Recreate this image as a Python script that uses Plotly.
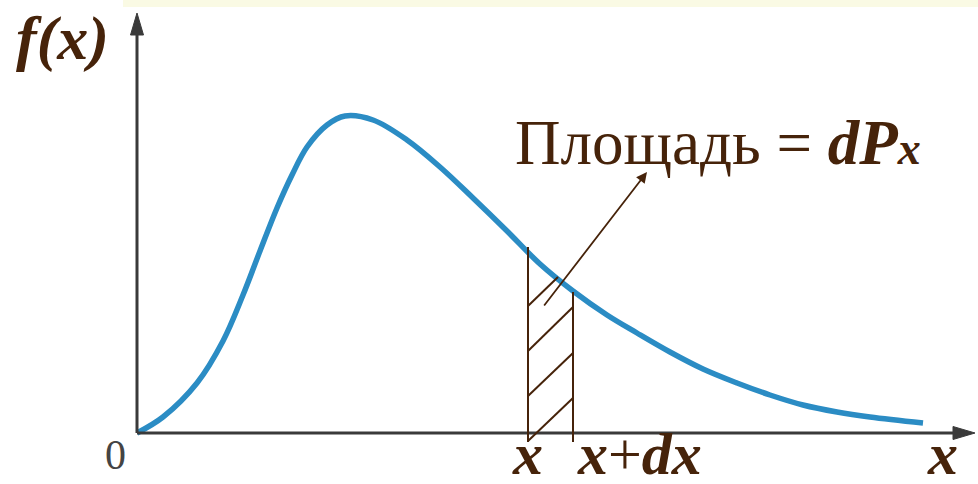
import plotly.graph_objects as go

curve_x = [0.00, 0.26, 0.60, 0.86, 1.06, 1.23, 1.40, 1.55, 1.70, 1.90, 2.08, 2.36,
           2.70, 3.03, 3.36, 3.70, 4.03, 4.36, 4.70, 5.00, 5.33, 5.66, 6.00, 6.33,
           6.66, 7.00, 7.33, 7.86]
curve_y = [0.00, 0.16, 0.50, 0.92, 1.38, 1.82, 2.25, 2.58, 2.86, 3.08, 3.17, 3.13,
           2.93, 2.66, 2.35, 2.02, 1.69, 1.42, 1.18, 1.00, 0.81, 0.64, 0.50, 0.38,
           0.28, 0.21, 0.16, 0.10]

# Strip [x, x+dx] under the curve
strip_x = [3.91, 4.36]
strip_top = [1.86, 1.41]
strip_bottom = -0.09

# Hatch strokes inside the strip: (x0, y0, x1, y1)
hatch = [
    (3.91, 1.27, 4.21, 1.56),
    (3.91, 0.82, 4.36, 1.26),
    (3.91, 0.37, 4.36, 0.80),
    (3.91, -0.08, 4.36, 0.35),
]
# Pointer from the strip to the caption
pointer = (4.06, 1.26, 5.10, 2.61)

x_axis_end = 8.38
y_axis_end = 4.20

ink = "#46230A"
axis_col = "#3A3A3A"
curve_col = "#2B8CC4"
serif = "Liberation Serif, Times New Roman, serif"

fig = go.Figure()

fig.add_trace(go.Scatter(
    x=curve_x, y=curve_y, mode="lines",
    line=dict(color=curve_col, width=5.5, shape="spline", smoothing=1.0),
    hoverinfo="skip", showlegend=False,
))

shapes = []
# Axes
shapes.append(dict(type="line", xref="x", yref="y", x0=0, y0=0, x1=x_axis_end - 0.15, y1=0,
                   line=dict(color=axis_col, width=3)))
shapes.append(dict(type="line", xref="x", yref="y", x0=0, y0=0, x1=0, y1=y_axis_end - 0.15,
                   line=dict(color=axis_col, width=3)))
# Arrowheads
shapes.append(dict(type="path", xref="x", yref="y",
                   path=f"M {x_axis_end},0 L {x_axis_end - 0.22},0.065 L {x_axis_end - 0.22},-0.065 Z",
                   fillcolor=axis_col, line=dict(color=axis_col, width=1)))
shapes.append(dict(type="path", xref="x", yref="y",
                   path=f"M 0,{y_axis_end} L 0.065,{y_axis_end - 0.22} L -0.065,{y_axis_end - 0.22} Z",
                   fillcolor=axis_col, line=dict(color=axis_col, width=1)))
# Strip edges
for sx, st in zip(strip_x, strip_top):
    shapes.append(dict(type="line", xref="x", yref="y", x0=sx, y0=strip_bottom, x1=sx, y1=st,
                       line=dict(color=ink, width=2)))
# Hatching
for x0, y0, x1, y1 in hatch:
    shapes.append(dict(type="line", xref="x", yref="y", x0=x0, y0=y0, x1=x1, y1=y1,
                       line=dict(color=ink, width=2)))
# Top banner strip
shapes.append(dict(type="rect", xref="paper", yref="paper", x0=123 / 978, x1=1,
                   y0=1 - 7 / 484, y1=1, fillcolor="#FAFAE4", line=dict(width=0), layer="below"))

fig.update_layout(shapes=shapes)

annotations = [
    # pointer arrow
    dict(x=pointer[2], y=pointer[3], ax=pointer[0], ay=pointer[1], xref="x", yref="y",
         axref="x", ayref="y", showarrow=True, arrowhead=2, arrowsize=1.2, arrowwidth=1.8,
         arrowcolor=ink, text=""),
    dict(x=-0.75, y=3.95, xref="x", yref="y", text="<b><i>f(x)</i></b>", showarrow=False,
         font=dict(family=serif, size=62, color=ink)),
    dict(x=-0.22, y=-0.22, xref="x", yref="y", text="0", showarrow=False,
         font=dict(family=serif, size=42, color="#444444")),
    dict(x=strip_x[0] - 0.01, y=-0.21, xref="x", yref="y", text="<b><i>x</i></b>", showarrow=False,
         xanchor="center", font=dict(family=serif, size=60, color=ink)),
    dict(x=strip_x[1] + 0.02, y=-0.21, xref="x", yref="y", text="<b><i>x</i></b>+<b><i>dx</i></b>",
         showarrow=False, xanchor="left", font=dict(family=serif, size=60, color=ink)),
    dict(x=8.05, y=-0.21, xref="x", yref="y", text="<b><i>x</i></b>", showarrow=False,
         font=dict(family=serif, size=60, color=ink)),
    dict(x=3.76, y=2.90, xref="x", yref="y", xanchor="left",
         text="Площадь = <b><i>dP</i></b><span style='font-size:46px'><b><i>x</i></b></span>",
         showarrow=False, font=dict(family=serif, size=63, color=ink)),
]
fig.update_layout(annotations=annotations)

fig.update_layout(
    width=978, height=484,
    margin=dict(l=0, r=0, t=0, b=0),
    paper_bgcolor="white", plot_bgcolor="white",
    xaxis=dict(range=[-1.37, 8.41], visible=False, fixedrange=True),
    yaxis=dict(range=[-0.51, 4.33], visible=False, fixedrange=True),
    showlegend=False,
)

fig.write_html("out.html")
